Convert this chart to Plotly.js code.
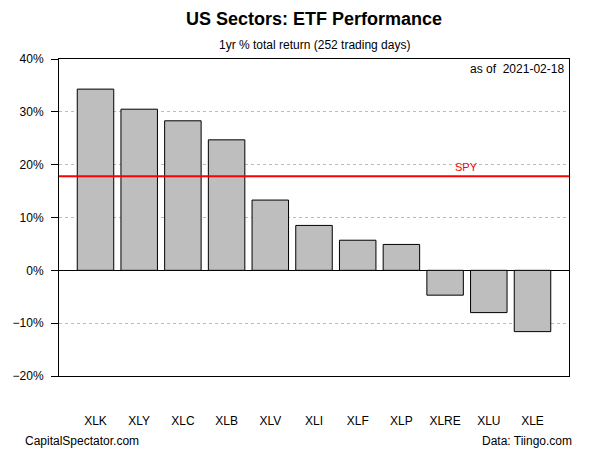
<!DOCTYPE html>
<html>
<head>
<meta charset="utf-8">
<script src="https://cdn.plot.ly/plotly-3.0.1.min.js"></script>
<style>html,body{margin:0;padding:0;background:#fff;}#chart{width:600px;height:450px;}</style>
</head>
<body>
<div id="chart"></div>
<script>
var tickers = ["XLK","XLY","XLC","XLB","XLV","XLI","XLF","XLP","XLRE","XLU","XLE"];
var returns = [34.3, 30.5, 28.3, 24.7, 13.3, 8.5, 5.7, 4.9, -4.7, -8.0, -11.6];
var spyReturn = 17.8;
var asOfDate = "2021-02-18";

var font = "Liberation Sans, Arial, sans-serif";

var trace = {
  type: "bar",
  x: tickers,
  y: returns,
  marker: {color: "#bebebe", line: {color: "#000", width: 1}},
  hoverinfo: "x+y"
};

var layout = {
  width: 600, height: 450,
  margin: {l: 59, r: 31, t: 59, b: 74},
  paper_bgcolor: "#fff", plot_bgcolor: "#fff",
  font: {family: font, size: 12, color: "#000"},
  showlegend: false,
  bargap: 0.165,
  title: {text: "<b>US Sectors: ETF Performance</b>", x: 0.5233, xanchor: "center", y: 0.958, yanchor: "middle", font: {family: font, size: 18, color: "#000"}},
  xaxis: {
    type: "category",
    range: [-0.835, 10.835],
    showgrid: false, zeroline: false,
    showline: true, linecolor: "#000", linewidth: 1, mirror: true,
    ticks: "outside", ticklen: 34, tickcolor: "rgba(0,0,0,0)",
    tickfont: {family: font, size: 12, color: "#000"},
    fixedrange: true
  },
  yaxis: {
    range: [-20, 40],
    dtick: 10, tick0: 0,
    ticksuffix: "%",
    showgrid: true, gridcolor: "#bbbbbb", griddash: "dot", gridwidth: 1,
    zeroline: true, zerolinecolor: "#000", zerolinewidth: 1,
    showline: true, linecolor: "#000", linewidth: 1, mirror: true,
    ticks: "outside", ticklen: 7, tickcolor: "#000",
    ticklabelstandoff: 5,
    tickfont: {family: font, size: 12, color: "#000"},
    fixedrange: true
  },
  shapes: [
    {type: "line", xref: "paper", x0: 0, x1: 1, yref: "y", y0: spyReturn, y1: spyReturn, line: {color: "#ff0000", width: 2}}
  ],
  annotations: [
    {text: "1yr % total return (252 trading days)", xref: "paper", x: 0.5, yref: "paper", y: 1.0, yanchor: "middle", xanchor: "center", yshift: 14, showarrow: false, font: {family: font, size: 12, color: "#000"}},
    {text: "as of  " + asOfDate, xref: "paper", x: 1, xanchor: "right", xshift: -3, yref: "paper", y: 1, yanchor: "top", yshift: -1, showarrow: false, font: {family: font, size: 12, color: "#000"}},
    {text: "SPY", xref: "x", x: 8.5, xanchor: "center", yref: "y", y: spyReturn, yanchor: "bottom", yshift: 1, showarrow: false, font: {family: font, size: 11, color: "#ff0000"}},
    {text: "CapitalSpectator.com", xref: "paper", x: -0.07, xanchor: "left", yref: "paper", y: -0.2, yanchor: "middle", yshift: -2, showarrow: false, font: {family: font, size: 12, color: "#000"}},
    {text: "Data: Tiingo.com", xref: "paper", x: 1.01, xanchor: "right", yref: "paper", y: -0.2, yanchor: "middle", yshift: -2, showarrow: false, font: {family: font, size: 12, color: "#000"}}
  ]
};

Plotly.newPlot("chart", [trace], layout, {displayModeBar: false, staticPlot: true});
</script>
</body>
</html>
